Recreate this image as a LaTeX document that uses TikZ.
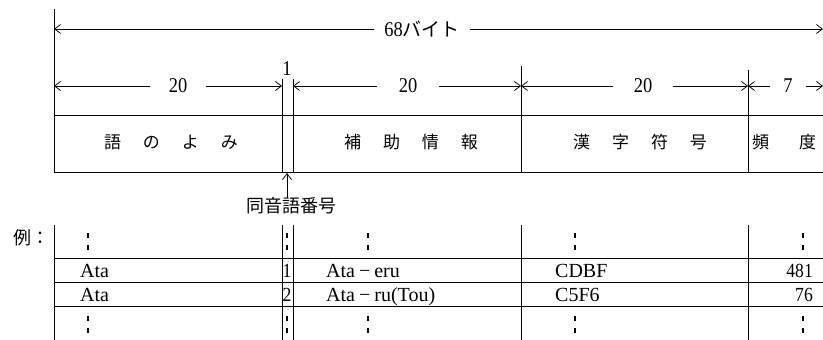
\documentclass[tikz,border=0pt]{standalone}
\usepackage{fontspec}
\setmainfont{Liberation Serif}
\newfontfamily\narrowfont[FakeStretch=0.88]{Liberation Serif}
\newfontfamily\jpfont{Noto Sans CJK JP}
\usetikzlibrary{arrows.meta}
\begin{document}
\begin{tikzpicture}[x=1pt,y=-1pt,
  every node/.style={inner sep=0pt},
  rule/.style={line width=0.75pt},
  arr/.style={line width=0.75pt,-{Straight Barb[length=6pt,width=9pt]}},
  dimtxt/.style={font=\narrowfont\fontsize{21}{24}\selectfont},
  lat/.style={font=\fontsize{20}{23}\selectfont},
  num/.style={font=\narrowfont\fontsize{20}{23}\selectfont},
  jp/.style={font=\jpfont\fontsize{17}{20}\selectfont},
  dotmark/.style={line width=1.3pt},
]
\useasboundingbox (0,0) rectangle (823,340);

% ---------- upper part: coordinates
\coordinate (v0t) at (54,9);   \coordinate (v0b) at (54,172);
\coordinate (v1t) at (282,79); \coordinate (v1b) at (282,172);
\coordinate (v2t) at (293,79); \coordinate (v2b) at (293,172);
\coordinate (v3t) at (521,66); \coordinate (v3b) at (521,172);
\coordinate (v4t) at (748,70); \coordinate (v4b) at (748,172);
\coordinate (rA) at (823,29);
\coordinate (rB) at (823,86);
\coordinate (bt0) at (54,115); \coordinate (bt1) at (823,115);
\coordinate (bb0) at (54,172); \coordinate (bb1) at (823,172);

\draw[rule] (v0t) -- (v0b);
\draw[rule] (v1t) -- (v1b);
\draw[rule] (v2t) -- (v2b);
\draw[rule] (v3t) -- (v3b);
\draw[rule] (v4t) -- (v4b);
\draw[rule] (bt0) -- (bt1);
\draw[rule] (bb0) -- (bb1);

% total width
\node[dimtxt,inner xsep=10pt] (L68) at (422,29) {68{\jpfont\fontsize{19}{22}\selectfont バイト}};
\draw[arr] (L68.west) -- (v0t |- L68);
\draw[arr] (L68.east) -- (rA);

% field widths
\node[dimtxt,inner xsep=19pt] (n20a) at (178,86) {20};
\node[dimtxt] (n1) at (287,69) {1};
\node[dimtxt,inner xsep=22pt] (n20b) at (408,86) {20};
\node[dimtxt,inner xsep=21pt] (n20c) at (643,86) {20};
\node[dimtxt,inner xsep=13pt] (n7) at (788,86) {7};
\draw[arr] (n20a.west) -- (v0t |- n20a);
\draw[arr] (n20a.east) -- (v1t |- n20a);
\draw[arr] (n20b.west) -- (v2t |- n20b);
\draw[arr] (n20b.east) -- (v3t |- n20b);
\draw[arr] (n20c.west) -- (v3t |- n20c);
\draw[arr] (n20c.east) -- (v4t |- n20c);
\draw[arr] (n7.west) -- (v4t |- n7);
\draw[arr] (n7.east) -- (rB);

% field names
\node[jp] (f1) at (171,142) {語\hspace{22pt}の\hspace{22pt}よ\hspace{22pt}み};
\node[jp] (f2) at (411,142) {補\hspace{22pt}助\hspace{22pt}情\hspace{22pt}報};
\node[jp] (f3) at (640,142) {漢\hspace{22pt}字\hspace{22pt}符\hspace{22pt}号};
\node[jp,anchor=west] (f4) at (752,142) {頻\hspace{30pt}度};

% homonym number
\node[jp,font=\jpfont\fontsize{18}{21}\selectfont] (hom) at (291,206) {同音語番号};
\coordinate (homtip) at (287,173);
\draw[arr] (hom.north -| homtip) -- (homtip);

% ---------- lower part: example
\node[jp,font=\jpfont\fontsize{18}{21}\selectfont] (rei) at (31,238) {例：};

\coordinate (w0t) at (54,225);  \coordinate (w0b) at (54,340);
\coordinate (w1t) at (282,225); \coordinate (w1b) at (282,340);
\coordinate (w2t) at (293,225); \coordinate (w2b) at (293,340);
\coordinate (w3t) at (521,225); \coordinate (w3b) at (521,340);
\coordinate (w4t) at (748,225); \coordinate (w4b) at (748,340);
\draw[rule] (w0t) -- (w0b);
\draw[rule] (w1t) -- (w1b);
\draw[rule] (w2t) -- (w2b);
\draw[rule] (w3t) -- (w3b);
\draw[rule] (w4t) -- (w4b);
\foreach \yy in {258,282,306}
  \draw[rule] (54,\yy) -- (823,\yy);

% rows (placed on their baselines)
\node[lat,anchor=base west] (a1) at (80,277) {Ata};
\node[num,anchor=base] (b1) at (287,277) {1};
\node[lat,anchor=base west] (c1) at (326,277) {Ata\hspace{4pt}−\hspace{4pt}eru};
\node[lat,anchor=base west] (d1) at (555,277) {CDBF};
\node[num,anchor=base east] (e1) at (813,277) {481};
\node[lat,anchor=base west] (a2) at (80,301) {Ata};
\node[num,anchor=base] (b2) at (287,301) {2};
\node[lat,anchor=base west] (c2) at (326,301) {Ata\hspace{4pt}−\hspace{4pt}ru(Tou)};
\node[lat,anchor=base west] (d2) at (555,301) {C5F6};
\node[num,anchor=base east] (e2) at (813,301) {76};

% vertical ellipsis marks
\foreach \xx in {88,287,368,575,803} {
  \draw[dotmark] (\xx,233) -- ++(0,5);
  \draw[dotmark] (\xx,245) -- ++(0,5);
  \draw[dotmark] (\xx,316) -- ++(0,5);
  \draw[dotmark] (\xx,328) -- ++(0,5);
}
\end{tikzpicture}
\end{document}
